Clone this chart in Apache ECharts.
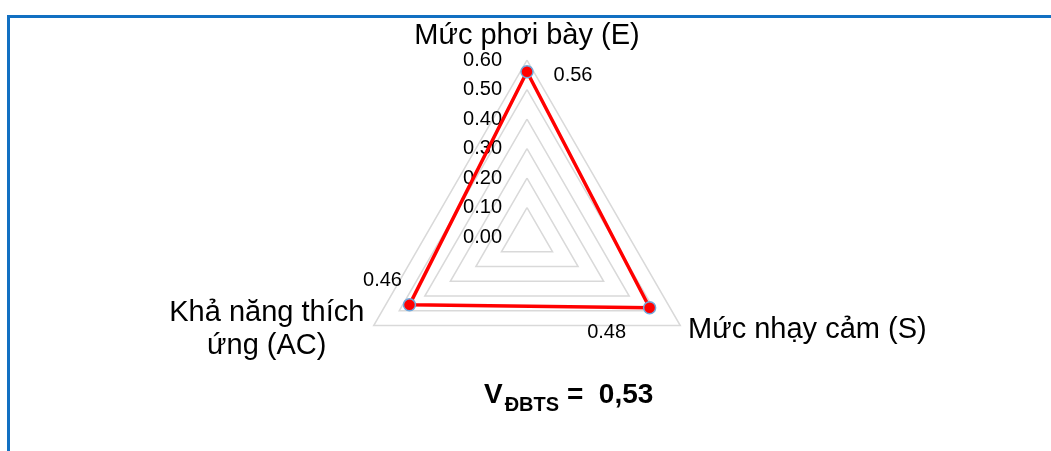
<!DOCTYPE html>
<html>
<head>
<meta charset="utf-8">
<script src="https://cdn.jsdelivr.net/npm/echarts@6/dist/echarts.min.js"></script>
<style>
  html, body { margin: 0; padding: 0; background: #fff; }
  #frame { position: absolute; left: 7px; top: 15px; width: 1044px; height: 436px;
           border-top: 3px solid #1270C2; border-left: 3px solid #1270C2; box-sizing: border-box; }
  #chart { position: absolute; left: 0; top: 0; width: 1051px; height: 451px; }
</style>
</head>
<body>
<div id="frame"></div>
<div id="chart"></div>
<script>
// Data
const indicatorNames = ['Mức phơi bày (E)', 'Khả năng thích\nứng (AC)', 'Mức nhạy cảm (S)'];
const seriesValues = [0.56, 0.46, 0.48];
const axisMin = 0;
const axisMax = 0.6;
const tickCount = 6;
const indexLabel = 'V';
const indexSub = 'ĐBTS';
const indexValue = '0,53';

const FONT = 'Liberation Sans, Arial, sans-serif';
const chart = echarts.init(document.getElementById('chart'), null, { renderer: 'canvas' });

const nameStyles = [
  { align: 'center', verticalAlign: 'bottom' },
  { align: 'right', verticalAlign: 'middle' },
  { align: 'left', verticalAlign: 'middle' }
];
const nameGaps = [8, 8, 9];
const labelOffsets = [[46, 4], [-27, -24], [-43, 25]];

const indicators = indicatorNames.map((n, i) => ({
  name: n,
  min: axisMin,
  max: axisMax,
  nameGap: nameGaps[i],
  nameTextStyle: nameStyles[i],
  axisLabel: { show: i === 0 }
}));

const labelSeries = seriesValues.map((v, k) => ({
  type: 'radar',
  silent: true,
  z: 5,
  symbol: 'circle',
  symbolSize: 1,
  itemStyle: { color: 'rgba(0,0,0,0)' },
  lineStyle: { width: 0, opacity: 0 },
  label: {
    show: true,
    position: 'inside',
    offset: labelOffsets[k],
    color: '#000',
    fontFamily: FONT,
    fontSize: 20,
    formatter: p => (p.dimensionIndex === k ? Number(seriesValues[k]).toFixed(2) : '')
  },
  data: [{ value: seriesValues }]
}));

chart.setOption({
  animation: false,
  title: {
    text: '{v|' + indexLabel + '}{s|' + indexSub + '}{v| =  ' + indexValue + '}',
    left: 479,
    top: 370,
    textStyle: {
      rich: {
        v: { fontFamily: FONT, fontSize: 28, fontWeight: 'bold', color: '#000' },
        s: { fontFamily: FONT, fontSize: 20, fontWeight: 'bold', color: '#000', padding: [20, 0, 0, 2] }
      }
    }
  },
  radar: {
    center: [527, 237],
    radius: 177,
    startAngle: 90,
    shape: 'polygon',
    splitNumber: tickCount,
    indicator: indicators,
    axisName: {
      color: '#000',
      fontFamily: FONT,
      fontSize: 29,
      formatter: function (name) {
        if (name.indexOf('\n') >= 0) {
          return name.split('\n').map(s => '{c|' + s + '}').join('\n');
        }
        return name;
      },
      rich: {
        c: { fontFamily: FONT, fontSize: 29, color: '#000', width: 200, align: 'center', lineHeight: 33 }
      }
    },
    axisLine: { show: false },
    axisTick: { show: false },
    axisLabel: {
      show: false,
      color: '#000',
      fontFamily: FONT,
      fontSize: 20,
      margin: 25,
      formatter: v => Number(v).toFixed(2)
    },
    splitLine: { lineStyle: { color: '#D9D9D9', width: 1.5 } },
    splitArea: { show: false }
  },
  series: [
    {
      type: 'radar',
      z: 3,
      symbol: 'circle',
      symbolSize: 12,
      lineStyle: { color: '#FF0000', width: 3.5 },
      itemStyle: { color: '#FF0000', borderColor: '#6FA8DC', borderWidth: 1.5 },
      data: [{ value: seriesValues }]
    }
  ].concat(labelSeries)
});
</script>
</body>
</html>
